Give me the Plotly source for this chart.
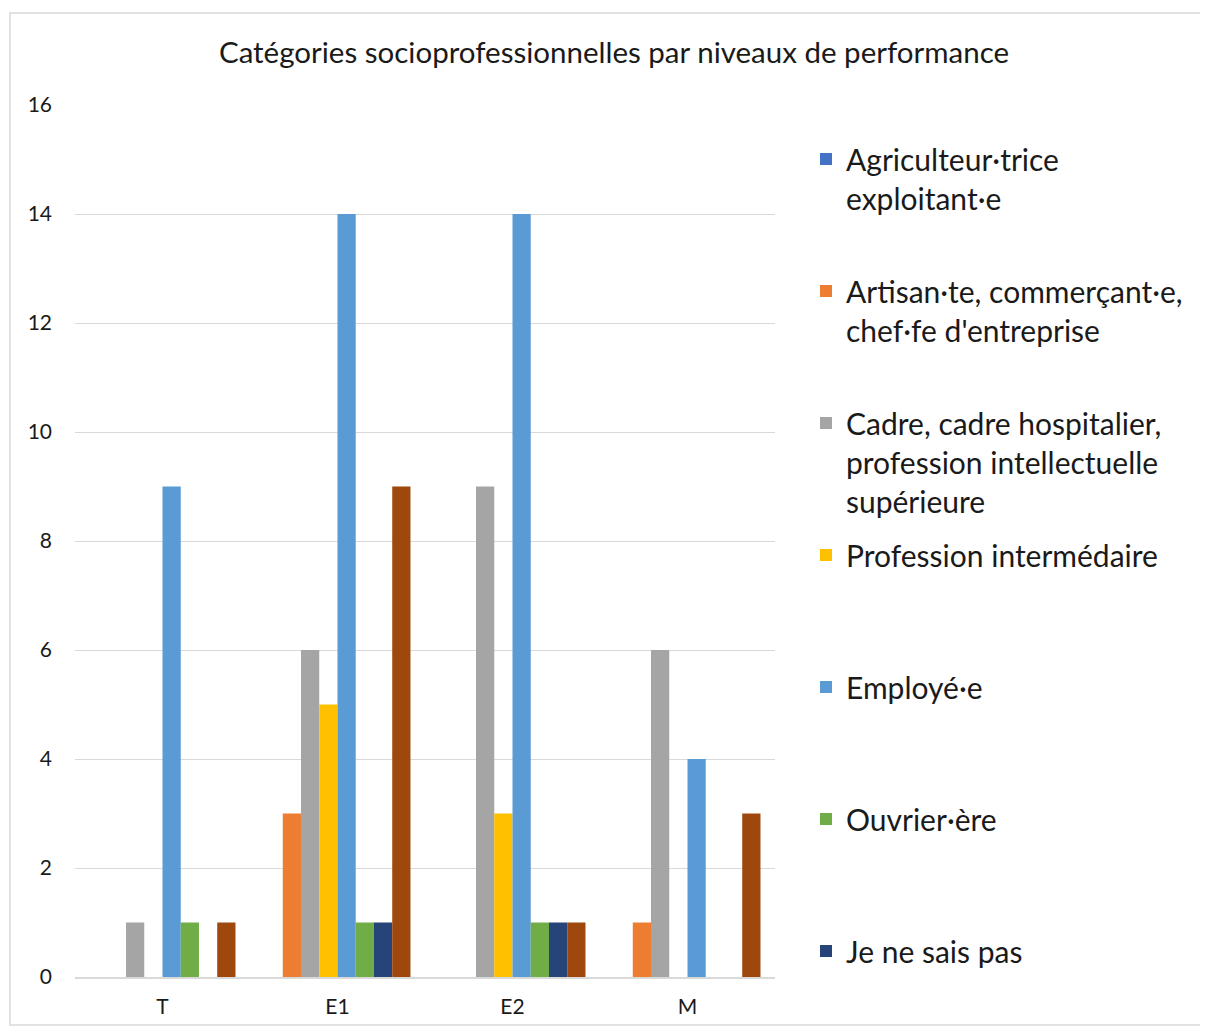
import plotly.graph_objects as go

categories = ["T", "E1", "E2", "M"]
series_names = [
    "Agriculteur·trice<br>exploitant·e",
    "Artisan·te, commerçant·e,<br>chef·fe d'entreprise",
    "Cadre, cadre hospitalier,<br>profession intellectuelle<br>supérieure",
    "Profession intermédaire",
    "Employé·e",
    "Ouvrier·ère",
    "Je ne sais pas",
    "Autre",
]
agriculteur = [0, 0, 0, 0]
artisan = [0, 3, 0, 1]
cadre = [1, 6, 9, 6]
prof_inter = [0, 5, 3, 0]
employe = [9, 14, 14, 4]
ouvrier = [1, 1, 1, 0]
ne_sais_pas = [0, 1, 1, 0]
autre = [1, 9, 1, 3]
series_values = [agriculteur, artisan, cadre, prof_inter, employe, ouvrier, ne_sais_pas, autre]
colors = ["#4472C4", "#ED7D31", "#A5A5A5", "#FFC000", "#5B9BD5", "#70AD47", "#264478", "#9E480E"]
y_ticks = [0, 2, 4, 6, 8, 10, 12, 14, 16]

FONT = "Lato, 'Open Sans', sans-serif"
OFF = 8  # page body margin
W, H = 1208 - OFF, 1030 - OFF
L, R, T, B = 75 - OFF, 775 - OFF, 105 - OFF, 977 - OFF

fig = go.Figure()
for i, (name, vals, col) in enumerate(zip(series_names, series_values, colors)):
    nlines = name.count("<br>") + 1
    label = name + "<br>\u00a0" * (3 - nlines)
    fig.add_trace(go.Bar(
        x=categories, y=vals, name=label, marker_color=col,
        marker_line_width=0, legendgroup=f"g{i}",
        showlegend=(i < 7),
    ))

def px_x(px):
    return (px - OFF - L) / (R - L)

def px_y(py):
    return (B - (py - OFF)) / (B - T)

fig.update_layout(
    width=W, height=H,
    margin=dict(l=L, r=W - R, t=T, b=H - B, pad=0, autoexpand=False),
    paper_bgcolor="white", plot_bgcolor="white",
    font=dict(family=FONT, color="#1a1a1a"),
    barmode="group", bargap=0.166, bargroupgap=0,
    title=dict(text="Catégories socioprofessionnelles par niveaux de performance",
               x=(614 - OFF) / W, xanchor="center", y=1 - (53 - OFF) / H, yanchor="middle",
               font=dict(size=29.5, family=FONT, color="#1a1a1a")),
    legend=dict(x=px_x(806), xanchor="left", y=px_y(133), yanchor="top",
                font=dict(size=30, family=FONT, color="#1a1a1a"),
                valign="top", tracegroupgap=12, bgcolor="rgba(0,0,0,0)",
                maxheight=1000),
    xaxis=dict(showgrid=False, showline=True, linecolor="#D9D9D9", linewidth=1.5,
               tickfont=dict(size=21, family=FONT), ticks="", ticklabelstandoff=10),
    yaxis=dict(range=[0, 16], tickvals=y_ticks, showgrid=True, gridcolor="#D9D9D9",
               gridwidth=1.2, zeroline=False, showline=False, ticks="",
               tickfont=dict(size=21, family=FONT), ticklabelstandoff=22),
    shapes=[dict(type="rect", xref="paper", yref="paper",
                 x0=px_x(10), x1=px_x(1204), y0=px_y(1025), y1=px_y(13),
                 line=dict(color="#D9D9D9", width=1.5), fillcolor="rgba(0,0,0,0)",
                 layer="below")],
)

fig.write_html("out.html")
